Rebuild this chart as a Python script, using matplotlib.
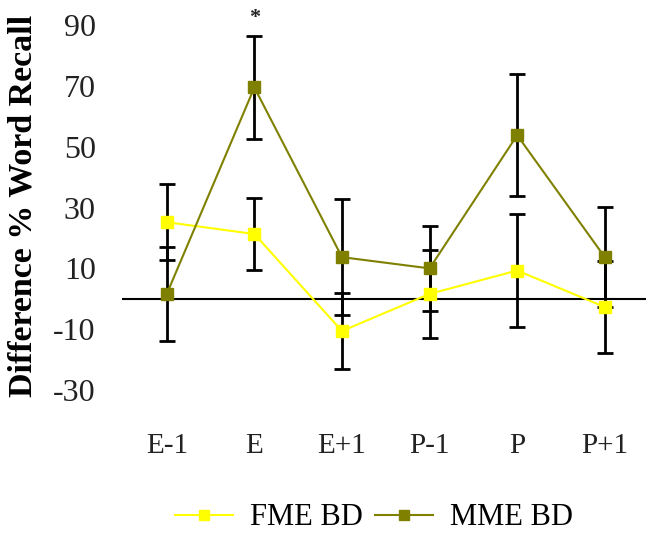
import numpy as np
import matplotlib
matplotlib.use("Agg")
import matplotlib.pyplot as plt

# 데이터
categories = ["E-1", "E", "E+1", "P-1", "P", "P+1"]
fme_mean = [25.2, 21.3, -10.6, 1.6, 9.3, -2.7]
fme_err = [12.5, 11.7, 12.5, 14.5, 18.5, 15.0]
mme_mean = [1.6, 69.5, 13.7, 10.0, 53.8, 13.7]
mme_err = [15.5, 17.0, 19.0, 14.0, 20.0, 16.5]
y_ticks = [-30, -10, 10, 30, 50, 70, 90]

plt.rcParams["font.family"] = ["Liberation Serif", "DejaVu Serif"]
plt.rcParams["axes.unicode_minus"] = False

fig = plt.figure(figsize=(6.46, 5.35), dpi=100)
ax = fig.add_axes([0.189, 0.271, 0.815, 0.682])

x = np.arange(len(categories))

# 0 기준선
ax.axhline(0, color="black", linewidth=1.5, zorder=1)

# 오차 막대
ax.errorbar(x, fme_mean, yerr=fme_err, fmt="none", ecolor="black",
            elinewidth=2, capsize=6, capthick=2, zorder=2)
ax.errorbar(x, mme_mean, yerr=mme_err, fmt="none", ecolor="black",
            elinewidth=2, capsize=6, capthick=2, zorder=2)

# 선 + 마커
ax.plot(x, fme_mean, color="#FFFF00", linewidth=1.5, marker="s",
        markersize=9, label="FME BD", zorder=3)
ax.plot(x, mme_mean, color="#808000", linewidth=1.5, marker="s",
        markersize=9, label="MME BD", zorder=3)

# 유의성 표시
ax.text(x[1], 92.5, "*", ha="center", va="center", fontsize=16,
        fontweight="bold", color="#222222", clip_on=False)

ax.set_xlim(-0.51, 5.5)
ax.set_ylim(-30, 90)
ax.set_yticks(y_ticks)
ax.set_xticks(x)
ax.set_xticklabels(categories)
ax.tick_params(axis="both", length=0, colors="#222222")
ax.tick_params(axis="y", pad=19, labelsize=23)
ax.tick_params(axis="x", pad=31, labelsize=21)
for s in ax.spines.values():
    s.set_visible(False)

fig.text(0.036, 0.615, "Difference % Word Recall", rotation=90,
         ha="center", va="center", fontsize=24.5, fontweight="bold")

leg = ax.legend(loc="center", ncol=2, frameon=False, fontsize=22,
                handlelength=1.9, handletextpad=0.55, columnspacing=0.4,
                markerscale=0.8)
leg.set_bbox_to_anchor((0.579, 0.032), transform=fig.transFigure)

fig.savefig("out.png", dpi=100)
